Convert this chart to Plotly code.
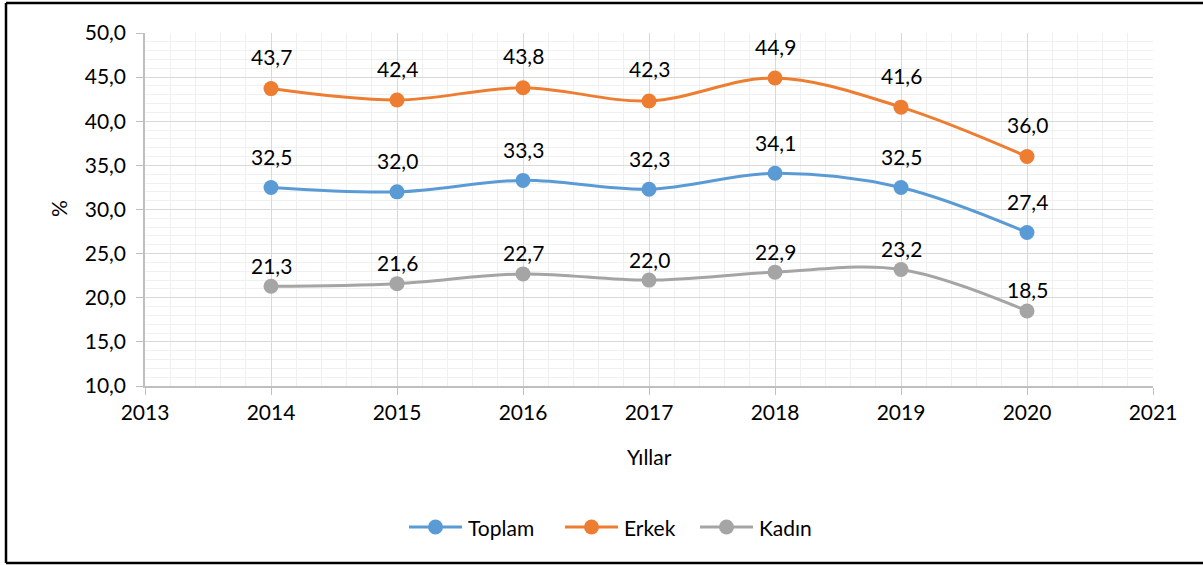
import plotly.graph_objects as go

years = [2014, 2015, 2016, 2017, 2018, 2019, 2020]
toplam = [32.5, 32.0, 33.3, 32.3, 34.1, 32.5, 27.4]
erkek = [43.7, 42.4, 43.8, 42.3, 44.9, 41.6, 36.0]
kadin = [21.3, 21.6, 22.7, 22.0, 22.9, 23.2, 18.5]
series_names = ["Toplam", "Erkek", "Kadın"]
x_title = "Yıllar"
y_title = "%"

FONT = "Lato"
FS = 21
W, H = 1203, 565
L, R, T, B = 145, 1153, 33, 386

colors = ["#5B9BD5", "#ED7D31", "#A5A5A5"]
label_shift = [31, 32, 21]
legend_x = [409, 565, 700]  # left edge of each legend item (px)
LEG_Y = 527

fig = go.Figure()
annotations = []
shapes = []


def px_x(p):
    return (p - L) / (R - L)


def px_y(p):
    return (B - p) / (B - T)


for i, (name, vals) in enumerate(zip(series_names, [toplam, erkek, kadin])):
    color = colors[i]
    fig.add_trace(go.Scatter(
        x=years, y=vals, name=name, mode="lines+markers",
        line=dict(color=color, width=3, shape="spline", smoothing=1.0),
        marker=dict(color=color, size=15), showlegend=False,
    ))
    for xv, yv in zip(years, vals):
        annotations.append(dict(
            x=xv, y=yv, xref="x", yref="y", text=f"{yv:.1f}".replace(".", ","),
            showarrow=False, yshift=label_shift[i], xanchor="center", yanchor="middle",
            font=dict(family=FONT, size=FS, color="#000000"),
        ))
    # custom legend entry
    lx = legend_x[i]
    shapes.append(dict(type="line", xref="paper", yref="paper",
                       x0=px_x(lx), x1=px_x(lx + 53), y0=px_y(LEG_Y), y1=px_y(LEG_Y),
                       line=dict(color=color, width=3)))
    shapes.append(dict(type="circle", xref="paper", yref="paper", xsizemode="pixel", ysizemode="pixel",
                       xanchor=px_x(lx + 26.5), yanchor=px_y(LEG_Y), x0=-7.5, x1=7.5, y0=-7.5, y1=7.5,
                       fillcolor=color, line=dict(width=0)))
    annotations.append(dict(x=px_x(lx + 57), y=px_y(LEG_Y), xref="paper", yref="paper", text=name,
                            showarrow=False, xanchor="left", yanchor="middle",
                            font=dict(family=FONT, size=FS, color="#000000")))

annotations.append(dict(x=px_x(649), y=px_y(457), xref="paper", yref="paper", text=x_title,
                        showarrow=False, xanchor="center", yanchor="middle",
                        font=dict(family=FONT, size=FS, color="#000000")))
annotations.append(dict(x=px_x(58), y=px_y(209), xref="paper", yref="paper", text=y_title,
                        showarrow=False, textangle=-90, xanchor="center", yanchor="middle",
                        font=dict(family=FONT, size=FS, color="#000000")))

# outer frame (top, left, bottom; the right edge lies outside the picture)
for (xa, ya, xb, yb) in [(6, 3, 1203, 3), (6, 3, 6, 563), (6, 563, 1203, 563)]:
    shapes.append(dict(type="line", xref="paper", yref="paper",
                       x0=px_x(xa), y0=px_y(ya), x1=px_x(xb), y1=px_y(yb),
                       line=dict(color="#000000", width=2.5), layer="above"))

fig.update_layout(
    width=W, height=H,
    margin=dict(l=L, r=W - R, t=T, b=H - B, pad=0),
    paper_bgcolor="white", plot_bgcolor="white",
    separators=",.",
    font=dict(family=FONT, size=FS, color="#000000"),
    showlegend=False,
    annotations=annotations,
    shapes=shapes,
)
fig.update_xaxes(
    range=[2013, 2021], dtick=1, tick0=2013, showgrid=True, gridcolor="#D9D9D9", gridwidth=1,
    minor=dict(dtick=0.2, showgrid=True, gridcolor="#F0F0F0", gridwidth=1),
    ticks="outside", ticklen=7, tickcolor="#BFBFBF", showline=True, linecolor="#BFBFBF", linewidth=1.5,
    zeroline=False, tickfont=dict(family=FONT, size=FS, color="#000000"), fixedrange=True,
)
fig.update_yaxes(
    range=[10, 50], dtick=5, tick0=10, showgrid=True, gridcolor="#D9D9D9", gridwidth=1,
    minor=dict(dtick=1, showgrid=True, gridcolor="#F0F0F0", gridwidth=1),
    ticks="outside", ticklen=7, tickcolor="#BFBFBF", showline=True, linecolor="#BFBFBF", linewidth=1.5,
    zeroline=False, tickformat=".1f", ticklabelstandoff=6,
    tickfont=dict(family=FONT, size=FS, color="#000000"), fixedrange=True,
)

fig.write_html("out.html", config={"displayModeBar": False},
               post_script="document.body.style.margin='0';document.body.style.overflow='hidden';")
